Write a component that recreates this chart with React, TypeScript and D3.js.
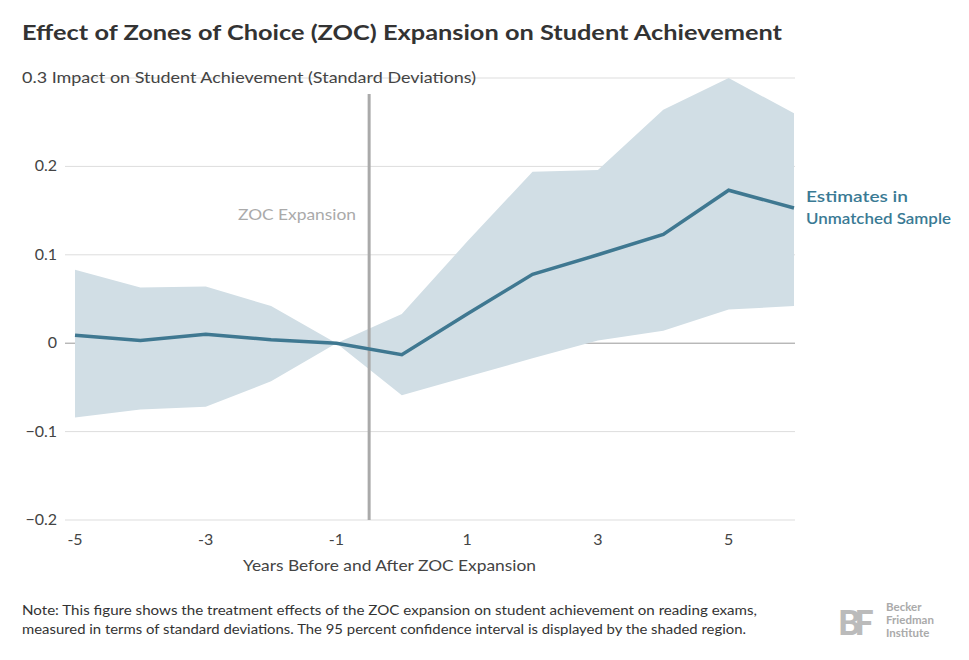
import React from 'react';
import * as d3 from 'd3';

const years = [-5, -4, -3, -2, -1, 0, 1, 2, 3, 4, 5, 6];
const estimate = [0.009, 0.003, 0.01, 0.004, 0, -0.013, 0.033, 0.078, 0.1, 0.123, 0.173, 0.153];
const upper = [0.083, 0.063, 0.064, 0.042, 0, 0.033, 0.115, 0.194, 0.196, 0.264, 0.3, 0.26];
const lower = [-0.084, -0.075, -0.072, -0.043, 0, -0.059, -0.038, -0.017, 0.003, 0.014, 0.038, 0.042];
const yTicks = [-0.2, -0.1, 0, 0.1, 0.2, 0.3];
const xTicks = [-5, -3, -1, 1, 3, 5];

const App = () => {
  const W = 969, H = 660;
  const font = 'Lato, "Open Sans", sans-serif';
  const x = d3.scaleLinear().domain([-5, 6]).range([75, 794]);
  const y = d3.scaleLinear().domain([-0.2, 0.3]).range([520, 78]);
  const data = years.map((t, i) => ({ t, e: estimate[i], u: upper[i], l: lower[i] }));
  const area = d3.area<typeof data[0]>().x(d => x(d.t)).y0(d => y(d.l)).y1(d => y(d.u));
  const line = d3.line<typeof data[0]>().x(d => x(d.t)).y(d => y(d.e));
  const fmt = (v: number) => (v === 0 ? '0' : d3.format('.1f')(v));

  return (
    <svg width={W} height={H} style={{ position: 'absolute', left: 0, top: 0, background: '#fff' }} fontFamily={font}>
      <text x={22} y={40} fontSize={21} fontWeight={700} fill="#333" textLength={760} lengthAdjust="spacingAndGlyphs">Effect of Zones of Choice (ZOC) Expansion on Student Achievement</text>
      {yTicks.map(v => (
        <g key={v}>
          <line x1={65} x2={795} y1={y(v)} y2={y(v)} stroke={v === 0 ? '#999' : '#ddd'} />
          {v === 0.3 ? (
            <text x={22} y={y(v) + 5} fontSize={16} fill="#444" textLength={454} lengthAdjust="spacingAndGlyphs">0.3 Impact on Student Achievement (Standard Deviations)</text>
          ) : (
            <text x={57} y={y(v) + 5} fontSize={16} fill="#444" textAnchor="end">{fmt(v)}</text>
          )}
        </g>
      ))}
      <path d={area(data) || ''} fill="#d1dee5" />
      <line x1={x(-0.5)} x2={x(-0.5)} y1={94} y2={520} stroke="#aaa" strokeWidth={3} />
      <text x={238} y={220} fontSize={16} fill="#aaa" textLength={118} lengthAdjust="spacingAndGlyphs">ZOC Expansion</text>
      <path d={line(data) || ''} fill="none" stroke="#3f7891" strokeWidth={3.5} />
      <text x={806} y={202} fontSize={16} fontWeight={600} fill="#3a7a94" textLength={102} lengthAdjust="spacingAndGlyphs">Estimates in</text>
      <text x={806} y={224} fontSize={16} fontWeight={600} fill="#3a7a94" textLength={145} lengthAdjust="spacingAndGlyphs">Unmatched Sample</text>
      {xTicks.map(v => (
        <text key={v} x={x(v)} y={545} fontSize={16} fill="#444" textAnchor="middle">{v}</text>
      ))}
      <text x={243} y={571} fontSize={16} fill="#444" textLength={293} lengthAdjust="spacingAndGlyphs">Years Before and After ZOC Expansion</text>
      <text x={22} y={615} fontSize={13.5} fill="#333" textLength={735} lengthAdjust="spacingAndGlyphs">Note: This figure shows the treatment effects of the ZOC expansion on student achievement on reading exams,</text>
      <text x={22} y={634} fontSize={13.5} fill="#333" textLength={724} lengthAdjust="spacingAndGlyphs">measured in terms of standard deviations. The 95 percent confidence interval is displayed by the shaded region.</text>
      <text x={838} y={635} fontSize={34} fontWeight={900} fill="#bbb" letterSpacing={-6}>BF</text>
      <text x={886} y={611} fontSize={11.5} fontWeight={700} fill="#aaa">Becker</text>
      <text x={886} y={624} fontSize={11.5} fontWeight={700} fill="#aaa">Friedman</text>
      <text x={886} y={637} fontSize={11.5} fontWeight={700} fill="#aaa">Institute</text>
    </svg>
  );
};

export default App;
